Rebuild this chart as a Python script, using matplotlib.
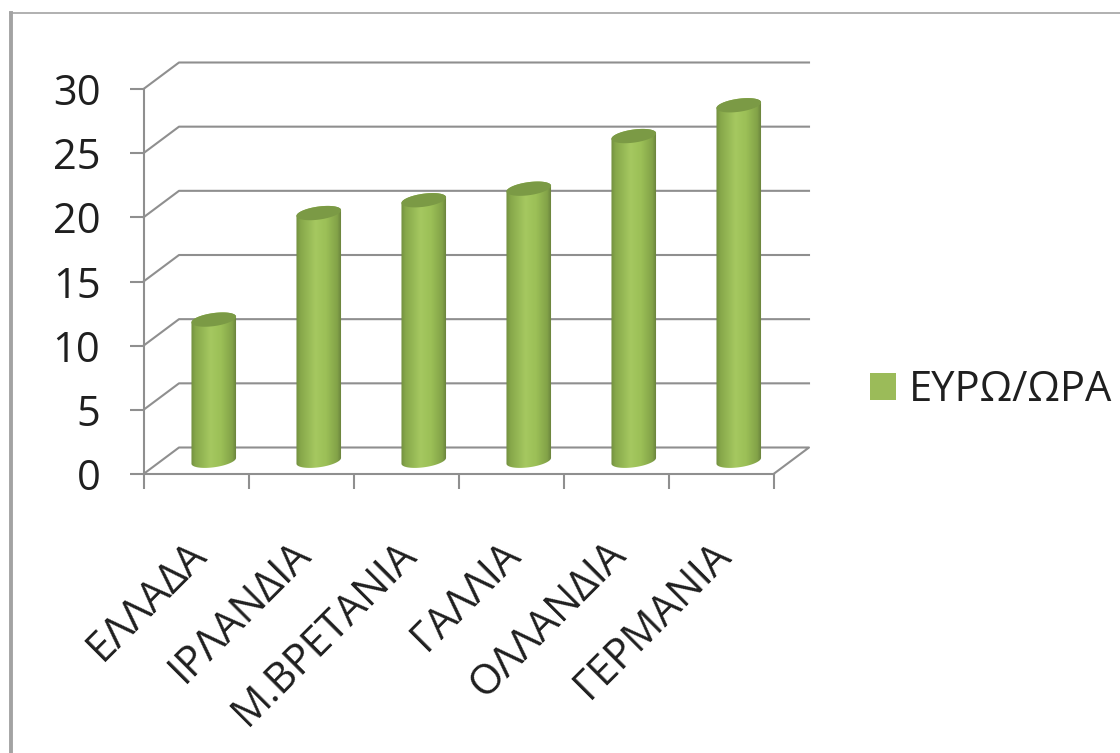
#!/usr/bin/env python3
"""Pseudo-3D cylinder chart of hourly cost per country."""
import numpy as np
import matplotlib

matplotlib.use("Agg")
import matplotlib.pyplot as plt
from matplotlib.colors import LinearSegmentedColormap
from matplotlib.patches import Patch, PathPatch
from matplotlib.path import Path

countries = ["ΕΛΛΑΔΑ", "ΙΡΛΑΝΔΙΑ", "Μ.ΒΡΕΤΑΝΙΑ", "ΓΑΛΛΙΑ", "ΟΛΛΑΝΔΙΑ", "ΓΕΡΜΑΝΙΑ"]
euro_per_hour = [11.0, 19.3, 20.3, 21.2, 25.3, 27.7]
y_ticks = [0, 5, 10, 15, 20, 25, 30]
series_name = "ΕΥΡΩ/ΩΡΑ"

W, H = 1120, 753
GRAY = "#8f8f8f"
FRAME = "#a3a3a3"
TEXT = "#1f1f1f"
GREEN = "#9bbb59"
FONT = "Open Sans"

# axes box in pixels: front plane of the fake 3D box
LEFT, RIGHT, BOTTOM, TOP = 143.5, 773.5, 474, 89
PX_X = 6 / (RIGHT - LEFT)
PX_Y = 30 / (BOTTOM - TOP)
DEPTH_X, DEPTH_Y = 35.5 * PX_X, 26.5 * PX_Y

shade = LinearSegmentedColormap.from_list(
    "cyl", [(0, "#728f40"), (0.1, "#87a84a"), (0.42, "#a5c860"),
            (0.65, "#9cc057"), (0.9, "#83a348"), (1, "#667d3b")])


def ellipse(cx, cy, t):
    # slightly tilted ellipse, radii given in pixels
    a, b, tilt = 22.5, 6.5, np.radians(8)
    ex = a * np.cos(t) * np.cos(tilt) - b * np.sin(t) * np.sin(tilt)
    ey = a * np.cos(t) * np.sin(tilt) + b * np.sin(t) * np.cos(tilt)
    return cx + ex * PX_X, cy + ey * PX_Y


fig = plt.figure(figsize=(W / 100, H / 100), dpi=100)
ax = fig.add_axes([LEFT / W, 1 - BOTTOM / H, (RIGHT - LEFT) / W, (BOTTOM - TOP) / H])

# outer frame of the screenshot
fig.add_artist(plt.Line2D([11 / W, 11 / W], [0, 1 - 13 / H], color=FRAME, lw=2.8))
fig.add_artist(plt.Line2D([10 / W, 1], [1 - 13 / H, 1 - 13 / H], color=FRAME, lw=1.2))

# back wall gridlines and floor
for v in y_ticks[1:]:
    ax.plot([0, DEPTH_X, 6 + DEPTH_X], [v, v + DEPTH_Y, v + DEPTH_Y],
            color=GRAY, lw=1.5, clip_on=False, zorder=1)
ax.plot([0, DEPTH_X, 6 + DEPTH_X, 6], [0, DEPTH_Y, DEPTH_Y, 0],
        color=GRAY, lw=1.5, clip_on=False, zorder=1)

# cylinders
gradient = np.linspace(0, 1, 128).reshape(1, -1)
for i, val in enumerate(euro_per_hour):
    cx = i + 0.5 + DEPTH_X / 2
    base = DEPTH_Y / 2
    top = val + DEPTH_Y / 2
    low_x, low_y = ellipse(cx, base, np.linspace(np.pi, 2 * np.pi, 40))
    up_x, up_y = ellipse(cx, top, np.linspace(0, np.pi, 40))
    body = np.column_stack([np.r_[low_x, up_x], np.r_[low_y, up_y]])
    patch = PathPatch(Path(np.vstack([body, body[0]]), closed=True),
                      fc="none", ec="none", transform=ax.transData)
    ax.add_patch(patch)
    half = 22.8 * PX_X
    img = ax.imshow(gradient, cmap=shade, aspect="auto", zorder=3,
                    extent=(cx - half, cx + half, -1, 31), clip_on=True)
    img.set_clip_path(patch)
    cap_x, cap_y = ellipse(cx, top, np.linspace(0, 2 * np.pi, 80))
    ax.fill(cap_x, cap_y, color="#7b9a45", lw=0, zorder=4, clip_on=False)

ax.set_xlim(0, 6)
ax.set_ylim(0, 30)

for side in ("top", "right"):
    ax.spines[side].set_visible(False)
for side in ("left", "bottom"):
    ax.spines[side].set_color(GRAY)
    ax.spines[side].set_linewidth(1.5)
ax.patch.set_alpha(0)

ax.set_yticks(y_ticks)
ax.set_xticks(range(7))
ax.set_xticklabels([])
ax.tick_params(axis="y", length=10, width=1.5, color=GRAY, pad=21,
               labelsize=30, labelcolor=TEXT)
ax.tick_params(axis="x", length=10.5, width=1.5, color=GRAY)
for lab in ax.get_yticklabels():
    lab.set_fontfamily(FONT)

# rotated category names, right end hangs under each category
for i, name in enumerate(countries):
    ax.annotate(name, xy=(i + 0.5, 0), xytext=(4, -74), textcoords="offset pixels",
                rotation=45, rotation_mode="anchor", ha="right", va="center",
                fontsize=30, family=FONT, color=TEXT, annotation_clip=False)

handle = Patch(fc=GREEN, ec="none", label=series_name)
fig.legend(handles=[handle], loc="center left", bbox_to_anchor=(870 / W, 1 - 390 / H),
           frameon=False, handlelength=0.62, handleheight=0.62,
           handletextpad=0.32, borderpad=0, borderaxespad=0,
           prop={"family": FONT, "size": 30}, labelcolor=TEXT)

fig.savefig("out.png", dpi=100)
